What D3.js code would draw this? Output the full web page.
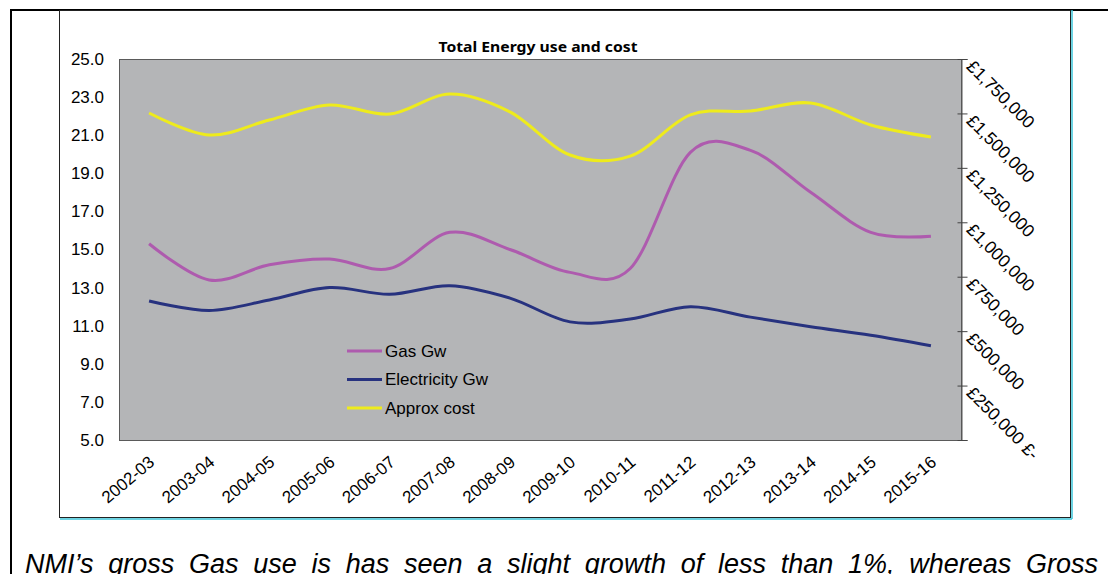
<!DOCTYPE html>
<html>
<head>
<style>
  body { margin: 0; background: #fff; }
  svg { display: block; font-family: "Liberation Sans", Arial, sans-serif; }
  .line { fill: none; stroke-width: 3px; }
</style>
</head>
<body>
<script src="https://d3js.org/d3.v7.min.js"></script>
<script>
// data
var years = ["2002-03", "2003-04", "2004-05", "2005-06", "2006-07", "2007-08", "2008-09",
             "2009-10", "2010-11", "2011-12", "2012-13", "2013-14", "2014-15", "2015-16"];
var gasGw = [15.3, 13.4, 14.2, 14.5, 14.0, 15.9, 15.0, 13.8, 14.0, 20.1, 20.2, 18.0, 15.9, 15.7];
var elecGw = [12.3, 11.8, 12.35, 13.0, 12.65, 13.1, 12.45, 11.2, 11.35, 12.0, 11.45, 10.95, 10.5, 9.95];
var approxCost = [1502000, 1401000, 1470000, 1539000, 1497000, 1589000, 1507000,
                  1309000, 1304000, 1493000, 1511000, 1548000, 1447000, 1392000];
var leftTicks = [5, 7, 9, 11, 13, 15, 17, 19, 21, 23, 25];
var rightTicks = [0, 250000, 500000, 750000, 1000000, 1250000, 1500000, 1750000];
var seriesNames = ["Gas Gw", "Electricity Gw", "Approx cost"];
var seriesColors = ["#ae5bae", "#27327f", "#eeeb1c"];
var chartTitle = "Total Energy use and cost";
var caption = "NMI\u2019s gross Gas use is has seen a slight growth of less than 1%, whereas Gross";

var W = 1108, H = 574;
var plot = {left: 119, right: 961, top: 59, bottom: 440};
var labelFont = 17;

var svg = d3.select("body").append("svg")
  .attr("width", W)
  .attr("height", H);

// page frame lines
svg.append("line").attr("x1", 11).attr("x2", 11).attr("y1", 10).attr("y2", H)
  .attr("stroke", "#000").attr("stroke-width", 2);
svg.append("line").attr("x1", 10).attr("x2", W).attr("y1", 10).attr("y2", 10)
  .attr("stroke", "#000").attr("stroke-width", 2);

// chart box
svg.append("line").attr("x1", 60).attr("x2", 1072).attr("y1", 519).attr("y2", 519)
  .attr("stroke", "#3cc4d8").attr("stroke-width", 1.5);
svg.append("line").attr("x1", 1072).attr("x2", 1072).attr("y1", 10).attr("y2", 519)
  .attr("stroke", "#3cc4d8").attr("stroke-width", 1.5);
svg.append("rect").attr("x", 59.5).attr("y", 10.5).attr("width", 1011).attr("height", 507)
  .attr("fill", "none").attr("stroke", "#222").attr("stroke-width", 1);

var x = d3.scalePoint().domain(years).range([plot.left, plot.right]).padding(0.5);
var yL = d3.scaleLinear().domain([5, 25]).range([plot.bottom, plot.top]);
var yR = d3.scaleLinear().domain([0, 1750000]).range([plot.bottom, plot.top]);

// plot area
svg.append("rect")
  .attr("x", plot.left + 0.5).attr("y", plot.top + 0.5)
  .attr("width", plot.right - plot.left).attr("height", plot.bottom - plot.top)
  .attr("fill", "#b4b5b7").attr("stroke", "#5a5a5a").attr("stroke-width", 1);

// title
svg.append("text")
  .attr("x", 538).attr("y", 52)
  .attr("text-anchor", "middle")
  .attr("font-family", "'Noto Sans', sans-serif")
  .attr("font-weight", "bold")
  .attr("font-size", 14)
  .attr("textLength", 199)
  .attr("lengthAdjust", "spacingAndGlyphs")
  .text(chartTitle);

// left axis
var gL = svg.append("g")
  .attr("transform", "translate(" + plot.left + ",0)")
  .call(d3.axisLeft(yL).tickValues(leftTicks).tickSize(0).tickPadding(15).tickFormat(d3.format(".1f")));
gL.select(".domain").remove();
gL.selectAll("text").attr("font-size", labelFont).attr("font-family", "'Liberation Sans', Arial, sans-serif").attr("fill", "#000");

// right axis
var gR = svg.append("g")
  .attr("transform", "translate(" + (plot.right + 0.5) + ",0)")
  .call(d3.axisRight(yR).tickValues(rightTicks).tickSize(6)
    .tickFormat(function(d) { return d === 0 ? "\u00a3-" : "\u00a3" + d3.format(",")(d); }));
gR.select(".domain").attr("stroke", "#555");
gR.selectAll(".tick line").attr("x1", -4).attr("stroke", "#444");
gR.selectAll(".tick text")
  .attr("font-size", labelFont + 0.5).attr("font-family", "'Liberation Sans', Arial, sans-serif").attr("fill", "#000")
  .attr("text-anchor", "start")
  .attr("x", 0).attr("dy", 0)
  .attr("transform", "translate(4,8) rotate(45)")
  .each(function(d) {
    if (d === 0) d3.select(this).attr("dx", 40).attr("dy", -38);
  });

// x axis labels
var gX = svg.append("g")
  .attr("transform", "translate(0," + plot.bottom + ")")
  .call(d3.axisBottom(x).tickSize(0));
gX.select(".domain").remove();
gX.selectAll(".tick text")
  .attr("font-size", labelFont).attr("font-family", "'Liberation Sans', Arial, sans-serif").attr("fill", "#000")
  .attr("text-anchor", "end")
  .attr("y", 0).attr("dy", 0)
  .attr("transform", "translate(6,24) rotate(-40)");

// series lines
var series = [gasGw, elecGw, approxCost];
var scales = [yL, yL, yR];
var drawOrder = [2, 0, 1];
drawOrder.forEach(function(i) {
  var line = d3.line()
    .x(function(d, j) { return x(years[j]); })
    .y(function(d) { return scales[i](d); })
    .curve(d3.curveCardinal.tension(0));
  svg.append("path")
    .attr("class", "line")
    .attr("stroke", seriesColors[i])
    .attr("d", line(series[i]));
});

// legend
var legY = d3.scalePoint().domain(seriesNames).range([351, 408]);
var leg = svg.append("g").selectAll("g").data(seriesNames).enter().append("g")
  .attr("transform", function(d) { return "translate(347," + legY(d) + ")"; });
leg.append("line").attr("x1", 0).attr("x2", 35)
  .attr("stroke", function(d, i) { return seriesColors[i]; })
  .attr("stroke-width", 3);
leg.append("text").attr("x", 38).attr("dy", "0.35em")
  .attr("font-size", labelFont).text(function(d) { return d; });

// caption below chart, justified
var words = caption.split(" ");
var cap = svg.append("g").attr("font-size", 27).attr("font-style", "italic");
var wEls = words.map(function(w) { return cap.append("text").attr("y", 573).text(w); });
var widths = wEls.map(function(t) { return t.node().getComputedTextLength(); });
var total = d3.sum(widths);
var left = 25, right = 1098;
var gap = (right - left - total) / (words.length - 1);
var cx = left;
wEls.forEach(function(t, i) { t.attr("x", cx); cx += widths[i] + gap; });
</script>
</body>
</html>
